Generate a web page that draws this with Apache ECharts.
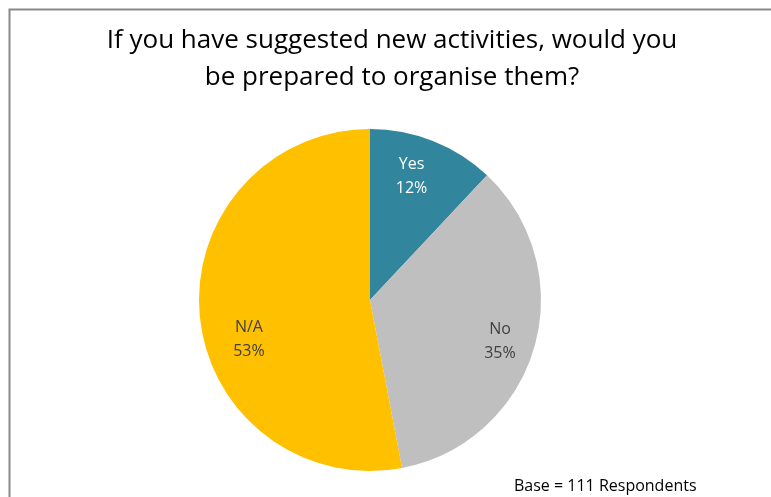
<!DOCTYPE html>
<html>
<head>
    <meta charset="utf-8">
    <title>Organise new activities</title>
    <script src="https://cdn.jsdelivr.net/npm/echarts@6/dist/echarts.min.js"></script>
    <style>
        html, body { margin: 0; padding: 0; background: #fff; }
        #main { width: 771px; height: 497px; }
    </style>
</head>
<body>
<div id="main"></div>
<script>
    // data
    var categories = ['Yes', 'No', 'N/A'];
    var percents = [12, 35, 53];
    var sliceColors = ['#31859C', '#BFBFBF', '#FFC000'];
    var labelColors = ['#ffffff', '#404040', '#404040'];
    // nudges from the default inside spot, like Excel's best fit
    var labelOffsets = [[9, -41], [45, 17], [-33, 31]];

    var chart = echarts.init(document.getElementById('main'), null, {renderer: 'canvas'});

    var pieData = categories.map(function (name, i) {
        return {
            name: name,
            value: percents[i],
            itemStyle: {color: sliceColors[i]},
            label: {color: labelColors[i], offset: labelOffsets[i]}
        };
    });

    var option = {
        backgroundColor: '#ffffff',
        animation: false,
        title: {
            text: 'If you have suggested new activities, would you\nbe prepared to organise them?',
            left: 387,
            top: 17,
            textAlign: 'center',
            textStyle: {
                fontFamily: 'Open Sans',
                fontSize: 26,
                fontWeight: 'normal',
                color: '#000000',
                lineHeight: 37
            }
        },
        graphic: [
            {
                type: 'rect',
                shape: {x: 9.5, y: 9.5, width: 900, height: 600},
                style: {fill: 'none', stroke: '#898989', lineWidth: 2},
                silent: true
            },
            {
                type: 'text',
                left: 514,
                top: 478,
                style: {
                    text: 'Base = 111 Respondents',
                    fontFamily: 'Open Sans',
                    fontSize: 16,
                    fill: '#000000'
                }
            }
        ],
        series: [{
            type: 'pie',
            center: [370, 300],
            radius: [0, 171],
            startAngle: 90,
            clockwise: true,
            data: pieData,
            label: {
                show: true,
                position: 'inside',
                formatter: '{b}\n{c}%',
                fontFamily: 'Open Sans',
                fontSize: 16,
                lineHeight: 24
            },
            labelLine: {show: false},
            emphasis: {disabled: true}
        }]
    };

    chart.setOption(option);
</script>
</body>
</html>
